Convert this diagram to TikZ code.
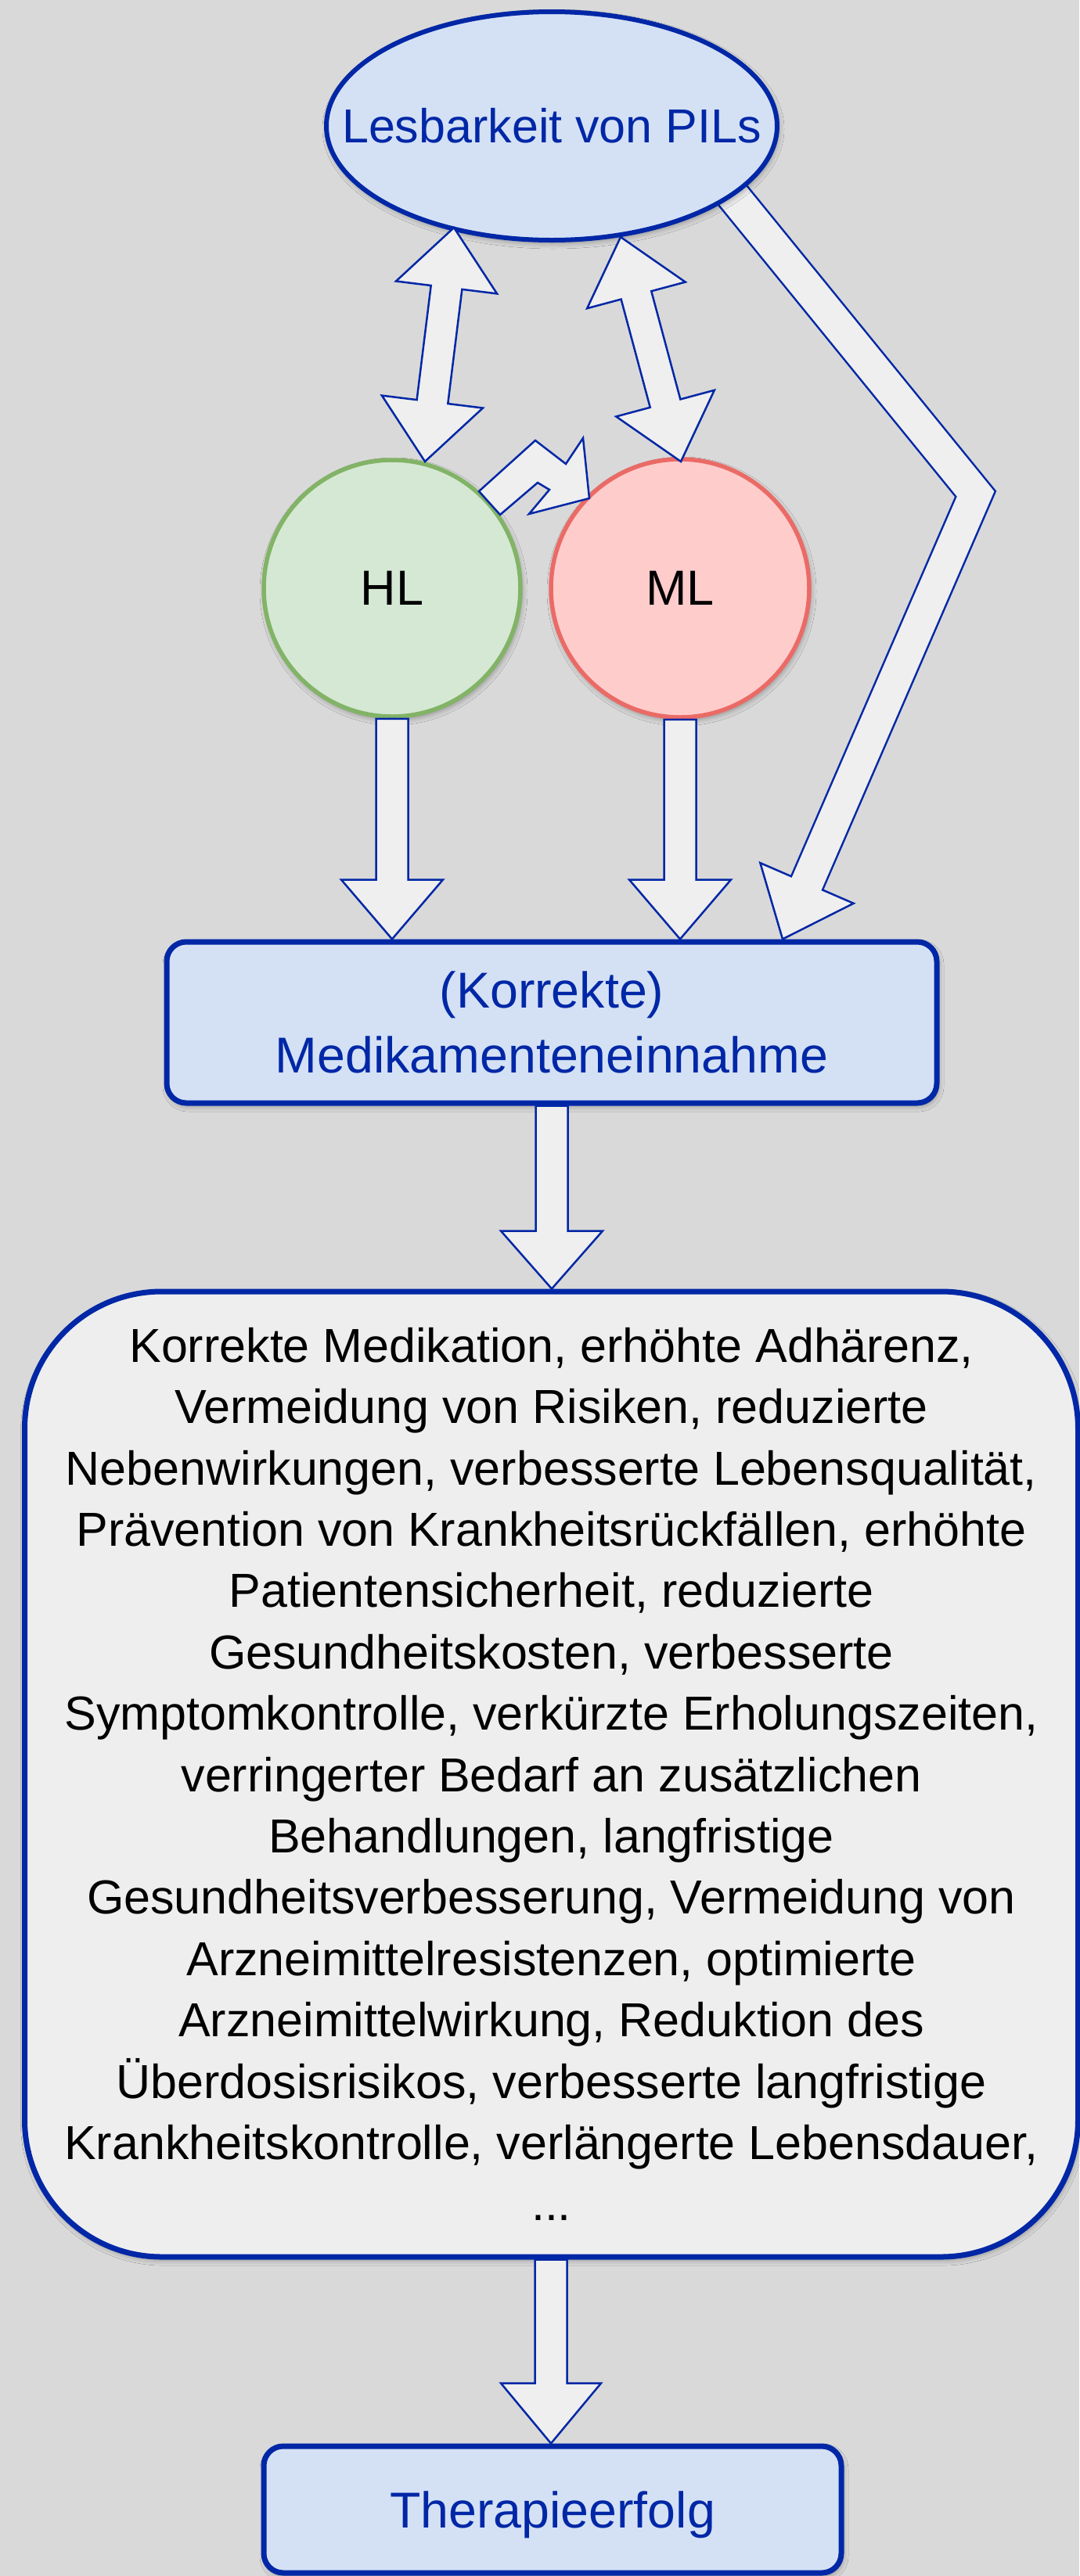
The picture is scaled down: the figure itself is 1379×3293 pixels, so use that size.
\documentclass[tikz,border=0pt]{standalone}
\usepackage{fontspec}
\setmainfont{Liberation Sans}
\usetikzlibrary{calc,shapes.geometric,shadows.blur}
\definecolor{bg}{HTML}{D9D9D9}
\definecolor{dblue}{HTML}{0027A6}
\definecolor{lblue}{HTML}{D4E1F5}
\definecolor{agray}{HTML}{EFEFEF}
\definecolor{bgray}{HTML}{EEEEEE}
\definecolor{gfill}{HTML}{D5E8D4}
\definecolor{gline}{HTML}{82B366}
\definecolor{rfill}{HTML}{FFCCCC}
\definecolor{rline}{HTML}{EA6B66}
\tikzset{
  shd/.style={blur shadow={shadow xshift=2pt, shadow yshift=-4pt, shadow blur radius=7pt, shadow opacity=35}},
  arr/.style={draw=dblue, fill=agray, line width=2.5pt, line join=miter},
  bluebox/.style={rectangle, draw=dblue, fill=lblue, line width=7pt, rounded corners=25pt, text=dblue,
    font=\fontsize{64.5}{83}\selectfont, align=center, inner sep=0pt, text depth=0pt},
  circnode/.style={circle, line width=5.5pt, inner sep=0pt, font=\fontsize{63}{70}\selectfont, text=black, text depth=0pt},
}
% single-headed block arrow: start, end, half shaft, half head, head length
\newcommand\blockarr[5]{%
  \path ($(#2)!#5!(#1)$) coordinate (hbx);
  \draw[arr] ($(#1)!#3!90:(#2)$) -- ($(hbx)!#3!90:(#2)$) -- ($(hbx)!#4!90:(#2)$) -- (#2)
    -- ($(hbx)!#4!-90:(#2)$) -- ($(hbx)!#3!-90:(#2)$) -- ($(#1)!#3!-90:(#2)$) -- cycle;}
% double-headed block arrow
\newcommand\dblarr[5]{%
  \path ($(#1)!#5!(#2)$) coordinate (hba) ($(#2)!#5!(#1)$) coordinate (hbb);
  \draw[arr] (#1) -- ($(hba)!#4!90:(#2)$) -- ($(hba)!#3!90:(#2)$) -- ($(hbb)!#3!90:(#2)$)
    -- ($(hbb)!#4!90:(#2)$) -- (#2) -- ($(hbb)!#4!-90:(#2)$) -- ($(hbb)!#3!-90:(#2)$)
    -- ($(hba)!#3!-90:(#2)$) -- ($(hba)!#4!-90:(#2)$) -- cycle;}
\begin{document}
\begin{tikzpicture}[x=1pt,y=-1pt]
\useasboundingbox (0,0) rectangle (1379,3293);
\fill[bg] (0,0) rectangle (1379,3293);

% bent arrow Lesbarkeit -> Medikamenteneinnahme (drawn first, start hidden under ellipse)
\coordinate (ba) at (904.5,210.7);
\coordinate (bc) at (1246.6,631.4);
\coordinate (bt) at (1000,1200.5);
\path ($(bt)!78pt!(bc)$) coordinate (bh);
\draw[dblue, line width=46pt, line join=miter] (ba) -- (bc) -- (bh);
\draw[arr] ($(bh)!65pt!90:(bt)$) -- (bt) -- ($(bh)!65pt!-90:(bt)$) -- cycle;
\draw[agray, line width=41pt, line join=miter] (ba) -- (bc) -- ($(bh)!3pt!(bt)$);

% nodes
\node[ellipse, draw=dblue, fill=lblue, line width=6pt, minimum width=576pt, minimum height=292pt,
  inner sep=0pt, text=dblue, font=\fontsize{61}{70}\selectfont, shd] (lesb) at (705,161) {\makebox[0pt]{Lesbarkeit von PILs}};
\node[circnode, draw=gline, fill=gfill, minimum size=328pt, shd] (hl) at (501,752) {HL};
\node[circnode, draw=rline, fill=rfill, minimum size=330pt, shd] (ml) at (869,752) {ML};
\node[bluebox, minimum width=984pt, minimum height=206pt, shd] (box1) at (705,1307) {(Korrekte)\\Medikamenteneinnahme};
\node[rectangle, draw=dblue, fill=bgray, line width=7pt, rounded corners=175pt, minimum width=1346pt,
  minimum height=1234pt, inner sep=0pt, align=center, text=black, font=\fontsize{61}{78.4}\selectfont, shd]
  (big) at (704.5,2268) {Korrekte Medikation, erhöhte Adhärenz,\\
Vermeidung von Risiken, reduzierte\\
Nebenwirkungen, verbesserte Lebensqualität,\\
Prävention von Krankheitsrückfällen, erhöhte\\
Patientensicherheit, reduzierte\\
Gesundheitskosten, verbesserte\\
Symptomkontrolle, verkürzte Erholungszeiten,\\
verringerter Bedarf an zusätzlichen\\
Behandlungen, langfristige\\
Gesundheitsverbesserung, Vermeidung von\\
Arzneimittelresistenzen, optimierte\\
Arzneimittelwirkung, Reduktion des\\
Überdosisrisikos, verbesserte langfristige\\
Krankheitskontrolle, verlängerte Lebensdauer,\\
...};
\node[bluebox, minimum width=738pt, minimum height=162pt, shd] (ther) at (706,3208) {Therapieerfolg};

% double arrows
\coordinate (d1a) at (580,291);
\coordinate (d1b) at (543,590);
\coordinate (d2a) at (793,303);
\coordinate (d2b) at (870,590);
\dblarr{d1a}{d1b}{20pt}{65pt}{77pt}
\dblarr{d2a}{d2b}{20pt}{65pt}{77pt}

% zigzag HL -> ML
\draw[arr] (612,628) -- (684,563) -- (723,593) -- (745,560) -- (753,637) -- (676,657)
  -- (702,626) -- (687,617) -- (639,658) -- cycle;

% vertical arrows
\coordinate (t1) at (hl.south |- box1.north);
\coordinate (t2) at (ml.south |- box1.north);
\coordinate (b1s) at (box1.south);
\coordinate (b1t) at (box1.south |- big.north);
\coordinate (b2s) at (704,2888.5);
\coordinate (b2t) at (704,3123.5);
\blockarr{hl.south}{t1}{20.5pt}{65pt}{76pt}
\blockarr{ml.south}{t2}{20.5pt}{65pt}{76pt}
\blockarr{b1s}{b1t}{20.5pt}{65pt}{74pt}
\blockarr{b2s}{b2t}{20.5pt}{64pt}{77pt}
\end{tikzpicture}
\end{document}
